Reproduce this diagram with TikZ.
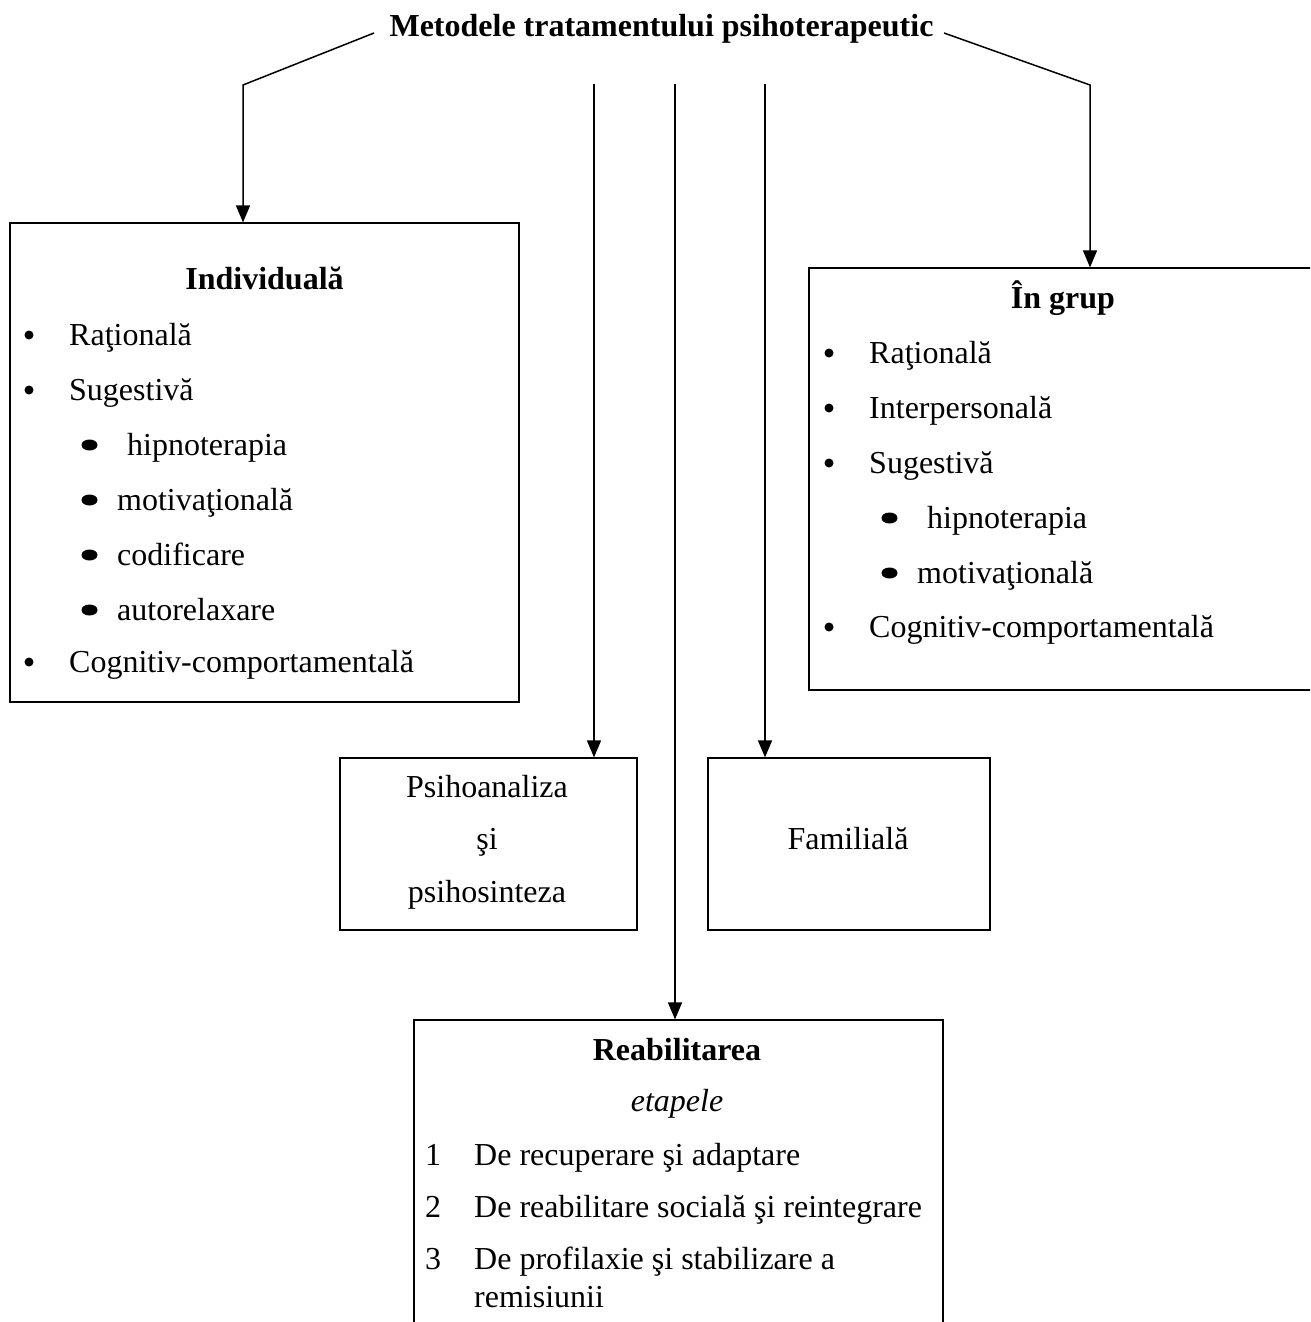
\documentclass[tikz,border=0pt]{standalone}
\usepackage{fontspec}
\setmainfont{Liberation Serif}
\usetikzlibrary{arrows.meta}
\begin{document}
\begin{tikzpicture}[x=1pt,y=-1pt,
  every node/.style={font=\fontsize{32}{38}\selectfont},
  box/.style={draw, line width=1.2pt, inner sep=0pt},
  conn/.style={line width=1.5pt, -{Triangle[length=17pt,width=14pt]}},
  txt/.style={anchor=base west, inner sep=0pt},
  ctr/.style={anchor=base, inner sep=0pt},
  hd/.style={anchor=base, inner sep=0pt, font=\fontsize{32}{38}\selectfont\bfseries}]
\useasboundingbox (0,0) rectangle (1310,1322);
\fill[white] (0,0) rectangle (1310,1322);
\clip (0,0) rectangle (1310,1322);

% title
\node[hd] (title) at (661.5,37) {Metodele tratamentului psihoterapeutic};

% boxes
\node[box, minimum width=509pt, minimum height=479pt] (ind) at (264.5,462.5) {};
\node[box, minimum width=520pt, minimum height=422pt] (grp) at (1069,479) {};
\node[box, minimum width=297pt, minimum height=172pt] (psy) at (488.5,844) {};
\node[box, minimum width=282pt, minimum height=172pt] (fam) at (849,844) {};
\node[box, minimum width=529pt, minimum height=340pt] (reab) at (678.5,1190) {};

% connectors
\coordinate (l0) at (374,33);
\coordinate (l1) at (243,85);
\draw[conn] (l0) -- (l1) -- (l1 |- ind.north);
\coordinate (r0) at (944,33);
\coordinate (r1) at (1090,85);
\draw[conn] (r0) -- (r1) -- (r1 |- grp.north);
\coordinate (v1) at (594,84);
\draw[conn] (v1) -- (v1 |- psy.north);
\coordinate (v2) at (675,84);
\draw[conn] (v2) -- (v2 |- reab.north);
\coordinate (v3) at (765,84);
\draw[conn] (v3) -- (v3 |- fam.north);

% Individuala
\node[hd] (indt) at (264.5,289) {Individuală};
\node[txt] (i1) at (69,345) {Raţională};
\node[txt] (i2) at (69,400) {Sugestivă};
\node[txt] (i3) at (127,455) {hipnoterapia};
\node[txt] (i4) at (117,510) {motivaţională};
\node[txt] (i5) at (117,565) {codificare};
\node[txt] (i6) at (117,620) {autorelaxare};
\node[txt] (i7) at (69,672) {Cognitiv-comportamentală};
\foreach \y in {335,390,662} \fill (29,\y) circle (4.5pt);
\foreach \y in {445,500,555,610} \fill (89.5,\y) ellipse (8pt and 5.5pt);

% In grup
\node[hd] (grpt) at (1063,308) {În grup};
\node[txt] (g1) at (869,363) {Raţională};
\node[txt] (g2) at (869,418) {Interpersonală};
\node[txt] (g3) at (869,473) {Sugestivă};
\node[txt] (g4) at (927,528) {hipnoterapia};
\node[txt] (g5) at (917,583) {motivaţională};
\node[txt] (g6) at (869,637) {Cognitiv-comportamentală};
\foreach \y in {353,408,463,627} \fill (829,\y) circle (4.5pt);
\foreach \y in {518,573} \fill (889.5,\y) ellipse (8pt and 5.5pt);

% Psihoanaliza
\node[ctr] (p1) at (487,797) {Psihoanaliza};
\node[ctr] (p2) at (487,849) {şi};
\node[ctr] (p3) at (487,902) {psihosinteza};

% Familiala
\node[ctr] (f1) at (848,849) {Familială};

% Reabilitarea
\node[hd] (rt) at (677,1060) {Reabilitarea};
\node[ctr, font=\fontsize{32}{38}\selectfont\itshape] (re) at (677,1111) {etapele};
\node[txt] (n1) at (425,1165) {1};
\node[txt] (n2) at (425,1217) {2};
\node[txt] (n3) at (425,1269) {3};
\node[txt] (r1t) at (474,1165) {De recuperare şi adaptare};
\node[txt] (r2t) at (474,1217) {De reabilitare socială şi reintegrare};
\node[txt] (r3t) at (474,1269) {De profilaxie şi stabilizare a};
\node[txt] (r4t) at (474,1307) {remisiunii};
\end{tikzpicture}
\end{document}
